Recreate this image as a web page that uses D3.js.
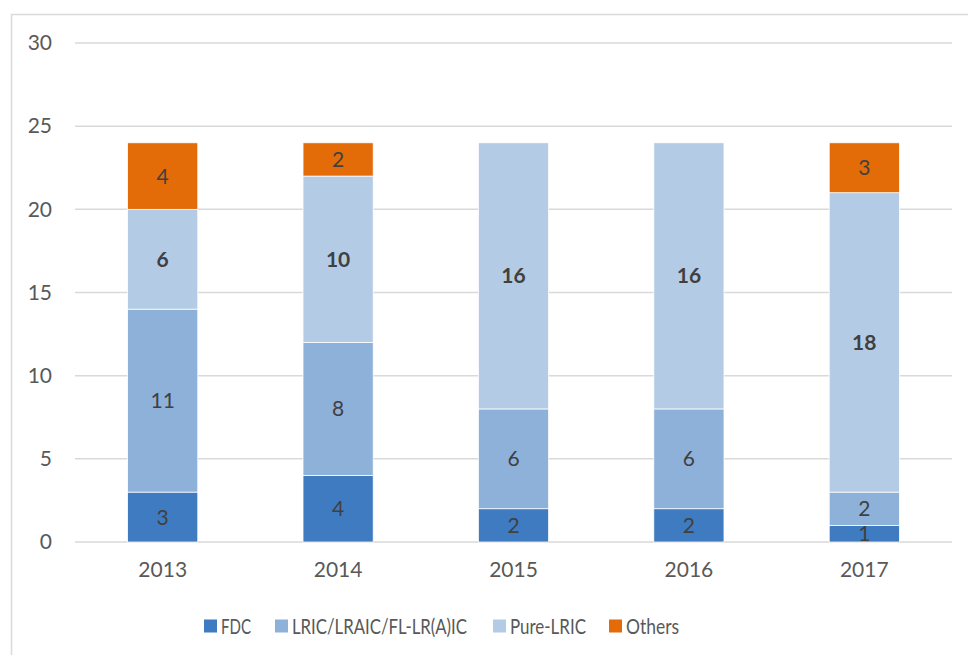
<!DOCTYPE html>
<html>
<head>
<meta charset="utf-8">
<script src="https://cdn.jsdelivr.net/npm/d3@7"></script>
<style>
  html, body { margin: 0; padding: 0; background: #fff; }
  svg { display: block; }
  text { font-family: Lato, "Liberation Sans", sans-serif; }
</style>
</head>
<body>
<svg id="chart" width="968" height="655"></svg>
<script>
// Number of regulators by cost methodology, per year
const years = ["2013", "2014", "2015", "2016", "2017"];
const seriesNames = ["FDC", "LRIC/LRAIC/FL-LR(A)IC", "Pure-LRIC", "Others"];
const fdc = [3, 4, 2, 2, 1];
const lric = [11, 8, 6, 6, 2];
const pureLric = [6, 10, 16, 16, 18];
const others = [4, 2, 0, 0, 3];
const yTicks = [0, 5, 10, 15, 20, 25, 30];

const colors = ["#3e7bc0", "#8eb1da", "#b4cbe6", "#e36c09"];
const boldLabel = [false, false, true, false];

const svg = d3.select("#chart");
const W = 968, H = 655;
const margin = { left: 75, right: 16, top: 43, bottom: 113 };

// chart frame
svg.append("rect")
  .attr("x", 11.5).attr("y", 14.5)
  .attr("width", W + 20).attr("height", H + 20)
  .attr("fill", "none").attr("stroke", "#d9d9d9").attr("stroke-width", 1.5);

const x = d3.scaleBand().domain(years)
  .range([margin.left, W - margin.right])
  .paddingInner(0.6).paddingOuter(0.3);
const y = d3.scaleLinear().domain([0, 30]).range([H - margin.bottom, margin.top]);

// gridlines
svg.append("g").selectAll("line").data(yTicks).join("line")
  .attr("x1", margin.left).attr("x2", W - margin.right)
  .attr("y1", d => y(d)).attr("y2", d => y(d))
  .attr("stroke", "#d9d9d9").attr("stroke-width", 1.5);

// y axis labels
const yAxis = d3.axisLeft(y).tickValues(yTicks).tickSize(0).tickPadding(23);
const yg = svg.append("g").attr("transform", `translate(${margin.left},0)`).call(yAxis);
yg.select(".domain").remove();
yg.selectAll("text").attr("font-size", 21).attr("fill", "#595959")
  .style("font-family", "Lato, sans-serif");

// x axis labels
const xAxis = d3.axisBottom(x).tickSize(0).tickPadding(20);
const xg = svg.append("g").attr("transform", `translate(0,${y(0)})`).call(xAxis);
xg.select(".domain").remove();
xg.selectAll("text").attr("font-size", 21).attr("fill", "#595959")
  .style("font-family", "Lato, sans-serif");

// stacked bars
const rows = years.map((yr, i) => ({
  year: yr, s0: fdc[i], s1: lric[i], s2: pureLric[i], s3: others[i]
}));
const stack = d3.stack().keys(["s0", "s1", "s2", "s3"]);
const layers = stack(rows);

layers.forEach((layer, li) => {
  const g = svg.append("g");
  g.selectAll("rect").data(layer.filter(d => d[1] - d[0] > 0)).join("rect")
    .attr("x", d => x(d.data.year))
    .attr("width", x.bandwidth())
    .attr("y", d => y(d[1]))
    .attr("height", d => y(d[0]) - y(d[1]))
    .attr("fill", colors[li])
    .attr("stroke", "#ffffff").attr("stroke-width", 0.75);
  g.selectAll("text").data(layer.filter(d => d[1] - d[0] > 0)).join("text")
    .attr("x", d => x(d.data.year) + x.bandwidth() / 2)
    .attr("y", d => (y(d[0]) + y(d[1])) / 2)
    .attr("dy", "0.36em")
    .attr("text-anchor", "middle")
    .attr("font-size", 21)
    .attr("font-weight", boldLabel[li] ? "bold" : "normal")
    .attr("fill", "#404040")
    .text(d => d[1] - d[0]);
});

// legend
const legendX = [204, 275, 493, 609];
const legendTextW = [30, 175, 76, 53];
const lg = svg.append("g");
seriesNames.forEach((name, i) => {
  lg.append("rect").attr("x", legendX[i]).attr("y", 619.5)
    .attr("width", 13).attr("height", 13).attr("fill", colors[i]);
  lg.append("text").attr("x", legendX[i] + 17).attr("y", 633.5)
    .attr("font-size", 21).attr("fill", "#595959")
    .attr("textLength", legendTextW[i]).attr("lengthAdjust", "spacingAndGlyphs")
    .text(name);
});
</script>
</body>
</html>
